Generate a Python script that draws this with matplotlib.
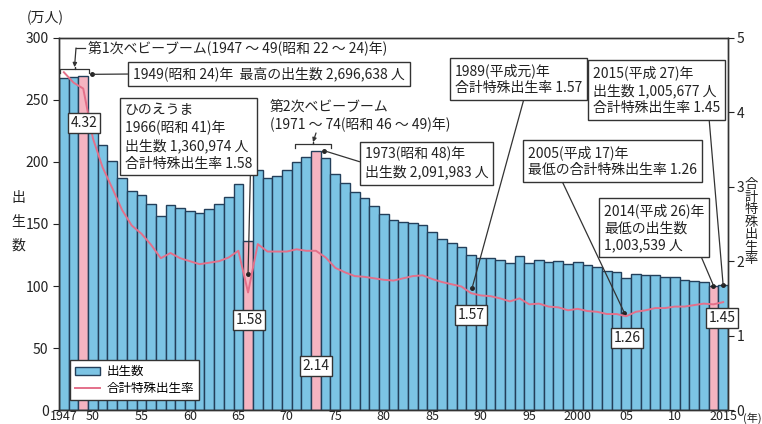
import matplotlib
matplotlib.use("Agg")
import matplotlib.pyplot as plt
from matplotlib.patches import Patch
from matplotlib.lines import Line2D

plt.rcParams['font.family'] = ['Noto Sans CJK JP', 'DejaVu Sans']

# データ（出生数: 万人, 合計特殊出生率）
years = list(range(1947, 2016))
births = [267.9, 268.2, 269.7, 233.8, 213.8, 200.5, 186.8, 177.0, 173.1, 166.5,
          156.7, 165.3, 162.6, 160.6, 158.9, 161.9, 166.0, 171.7, 182.4, 136.1,
          193.5, 187.2, 188.9, 193.4, 200.1, 203.9, 209.2, 203.0, 190.1, 183.3,
          175.5, 170.9, 164.3, 157.7, 152.9, 151.5, 150.9, 149.0, 143.2, 138.3,
          134.7, 131.4, 124.7, 122.2, 122.3, 120.9, 118.8, 123.8, 118.7, 120.7,
          119.2, 120.3, 117.8, 119.1, 117.1, 115.4, 112.4, 111.1, 106.3, 109.3,
          109.0, 109.1, 107.0, 107.1, 105.1, 103.7, 103.0, 100.4, 100.6]
tfr = [4.54, 4.40, 4.32, 3.65, 3.26, 2.98, 2.69, 2.48, 2.37, 2.22,
       2.04, 2.11, 2.04, 2.00, 1.96, 1.98, 2.00, 2.05, 2.14, 1.58,
       2.23, 2.13, 2.13, 2.13, 2.16, 2.14, 2.14, 2.05, 1.91, 1.85,
       1.80, 1.79, 1.77, 1.75, 1.74, 1.77, 1.80, 1.81, 1.76, 1.72,
       1.69, 1.66, 1.57, 1.54, 1.53, 1.50, 1.46, 1.50, 1.42, 1.43,
       1.39, 1.38, 1.34, 1.36, 1.33, 1.32, 1.29, 1.29, 1.26, 1.32,
       1.34, 1.37, 1.37, 1.39, 1.39, 1.41, 1.43, 1.42, 1.45]
highlight_years = [1949, 1966, 1973, 2014]
xtick_years = [1947, 1950, 1955, 1960, 1965, 1970, 1975, 1980, 1985, 1990,
               1995, 2000, 2005, 2010, 2015]
xtick_labels = ["1947", "50", "55", "60", "65", "70", "75", "80", "85", "90",
                "95", "2000", "05", "10", "2015"]

BLUE = "#7cc4e4"
PINK = "#f5b4c1"
EDGE = "#233f5a"
LINE = "#e4708a"
TXT = "#222222"

W, H = 762, 424
fig = plt.figure(figsize=(W / 100, H / 100), dpi=100)
ax = fig.add_axes([59 / W, 14 / H, 669 / W, 372 / H])

colors = [PINK if y in highlight_years else BLUE for y in years]
ax.bar(years, births, width=1.0, color=colors, edgecolor=EDGE, linewidth=1.0)
ax.set_xlim(1946.5, 2015.5)
ax.set_ylim(0, 300)
ax.set_yticks(range(0, 301, 50))
ax.set_xticks(xtick_years)
ax.set_xticklabels(xtick_labels)
ax.tick_params(axis='x', length=0, pad=0, labelsize=9, colors=TXT)
ax.tick_params(axis='y', direction='out', length=4, labelsize=10, colors=TXT)

ax2 = ax.twinx()
ax2.plot(years, tfr, color=LINE, lw=1.4)
ax2.set_ylim(0, 5)
ax2.set_yticks(range(6))
ax2.tick_params(axis='y', direction='out', length=4, pad=2, labelsize=10, colors=TXT)
for a in (ax, ax2):
    for s in a.spines.values():
        s.set_color("#333333")
        s.set_linewidth(1.0)


def P(x, y):
    # 画像のピクセル位置 -> figure pixels
    return (x, H - y)


box = dict(boxstyle='square,pad=0.35', fc='white', ec='#333333', lw=1.0)
small_box = dict(boxstyle='square,pad=0.2', fc='white', ec='#333333', lw=1.0)
conn = dict(arrowstyle='-', color='#333333', lw=0.9, shrinkA=0, shrinkB=0)


def note(text, xy, pos, relpos, ha='left', va='top'):
    a = dict(conn)
    a['relpos'] = relpos
    ax2.annotate(text, xy=xy, xycoords=ax.transData, xytext=P(*pos),
                 textcoords='figure pixels', ha=ha, va=va, fontsize=10,
                 color=TXT, bbox=box, arrowprops=a, linespacing=1.3, zorder=5)
    ax.plot([xy[0]], [xy[1]], 'o', ms=2.5, color='#222222', zorder=6, clip_on=False)


def value_box(text, pos):
    ax2.annotate(text, xy=P(*pos), xycoords='figure pixels', ha='center',
                 va='center', fontsize=10, color=TXT, bbox=small_box, zorder=5)


def bracket(x0, x1, y_end, y_top):
    xm = (x0 + x1) / 2
    ax.plot([x0, x0, xm, xm, xm, x1, x1],
            [y_end, y_top, y_top, y_top + 1.5, y_top, y_top, y_end],
            color='#333333', lw=0.9, zorder=6, clip_on=False)


idx = {y: i for i, y in enumerate(years)}

# 第1次ベビーブーム
bracket(1946.6, 1949.6, 272, 275)
fig.text(88 / W, 1 - 48 / H, "第1次ベビーブーム(1947 ～ 49(昭和 22 ～ 24)年)",
         fontsize=10, color=TXT, va='center', ha='left')
fig.add_artist(Line2D([76 / W, 85 / W], [1 - 48 / H, 1 - 48 / H],
                      transform=fig.transFigure, color='#333333', lw=0.9))
ax2.annotate('', xy=(1948.1, 276.5), xycoords=ax.transData, xytext=P(76, 48),
             textcoords='figure pixels',
             arrowprops=dict(arrowstyle='-|>', color='#333333', lw=0.9,
                             mutation_scale=6, shrinkA=0, shrinkB=0))

note("1949(昭和 24)年  最高の出生数 2,696,638 人",
     (1949.9, births[idx[1949]] + 1), (133, 74), (0, 0.5), va='center')
value_box("4.32", (84, 123))

note("ひのえうま\n1966(昭和 41)年\n出生数 1,360,974 人\n合計特殊出生率 1.58",
     (1966, 110), (125, 103), (0.985, 0))
value_box("1.58", (249, 320))

# 第2次ベビーブーム
fig.text(270 / W, 1 - 100 / H, "第2次ベビーブーム\n(1971 ～ 74(昭和 46 ～ 49)年)",
         fontsize=10, color=TXT, va='top', ha='left', linespacing=1.3)
bracket(1970.8, 1974.6, 211, 214.5)
ax2.annotate('', xy=(1972.7, 216), xycoords=ax.transData, xytext=P(316, 133),
             textcoords='figure pixels',
             arrowprops=dict(arrowstyle='-|>', color='#333333', lw=0.9,
                             mutation_scale=6, shrinkA=0, shrinkB=0))

note("1973(昭和 48)年\n出生数 2,091,983 人",
     (1973.8, births[idx[1973]]), (365, 147), (0, 0.5))
value_box("2.14", (316, 366))

note("1989(平成元)年\n合計特殊出生率 1.57",
     (1989.1, tfr[idx[1989]] * 60 + 4), (455, 63), (0.55, 0))
value_box("1.57", (471, 315))

note("2015(平成 27)年\n出生数 1,005,677 人\n合計特殊出生率 1.45",
     (2015, births[idx[2015]]), (593, 65), (0.91, 0))

note("2005(平成 17)年\n最低の合計特殊出生率 1.26",
     (2004.8, tfr[idx[2005]] * 60 + 3), (528, 145), (0.19, 0))
value_box("1.26", (627, 338))

note("2014(平成 26)年\n最低の出生数\n1,003,539 人",
     (2014, births[idx[2014]]), (604, 203), (0.95, 0))
value_box("1.45", (722, 318))

# 凡例
handles = [Patch(facecolor=BLUE, edgecolor=EDGE, label='出生数'),
           Line2D([], [], color=LINE, lw=1.4, label='合計特殊出生率')]
leg = ax2.legend(handles=handles, loc='lower left',
                 bbox_to_anchor=(70 / W, 1 - 400 / H), bbox_transform=fig.transFigure,
                 borderaxespad=0, fancybox=False, framealpha=1, edgecolor='#333333',
                 fontsize=9, handlelength=2.0, handletextpad=0.5, borderpad=0.4,
                 labelspacing=0.3)
leg.set_zorder(7)

# 軸ラベル
fig.text(45 / W, 1 - 18 / H, "(万人)", fontsize=10, color=TXT, ha='center', va='center')
fig.text(18 / W, 1 - 222 / H, "出\n生\n数", fontsize=10, color=TXT, ha='center',
         va='center', linespacing=1.9)
fig.text(751 / W, 1 - 222 / H, "合\n計\n特\n殊\n出\n生\n率", fontsize=9.5, color=TXT,
         ha='center', va='center', linespacing=0.95)
fig.text(752.5 / W, 1 - 418 / H, "(年)", fontsize=8, color=TXT, ha='center', va='center')

fig.savefig("out.png", dpi=100)
